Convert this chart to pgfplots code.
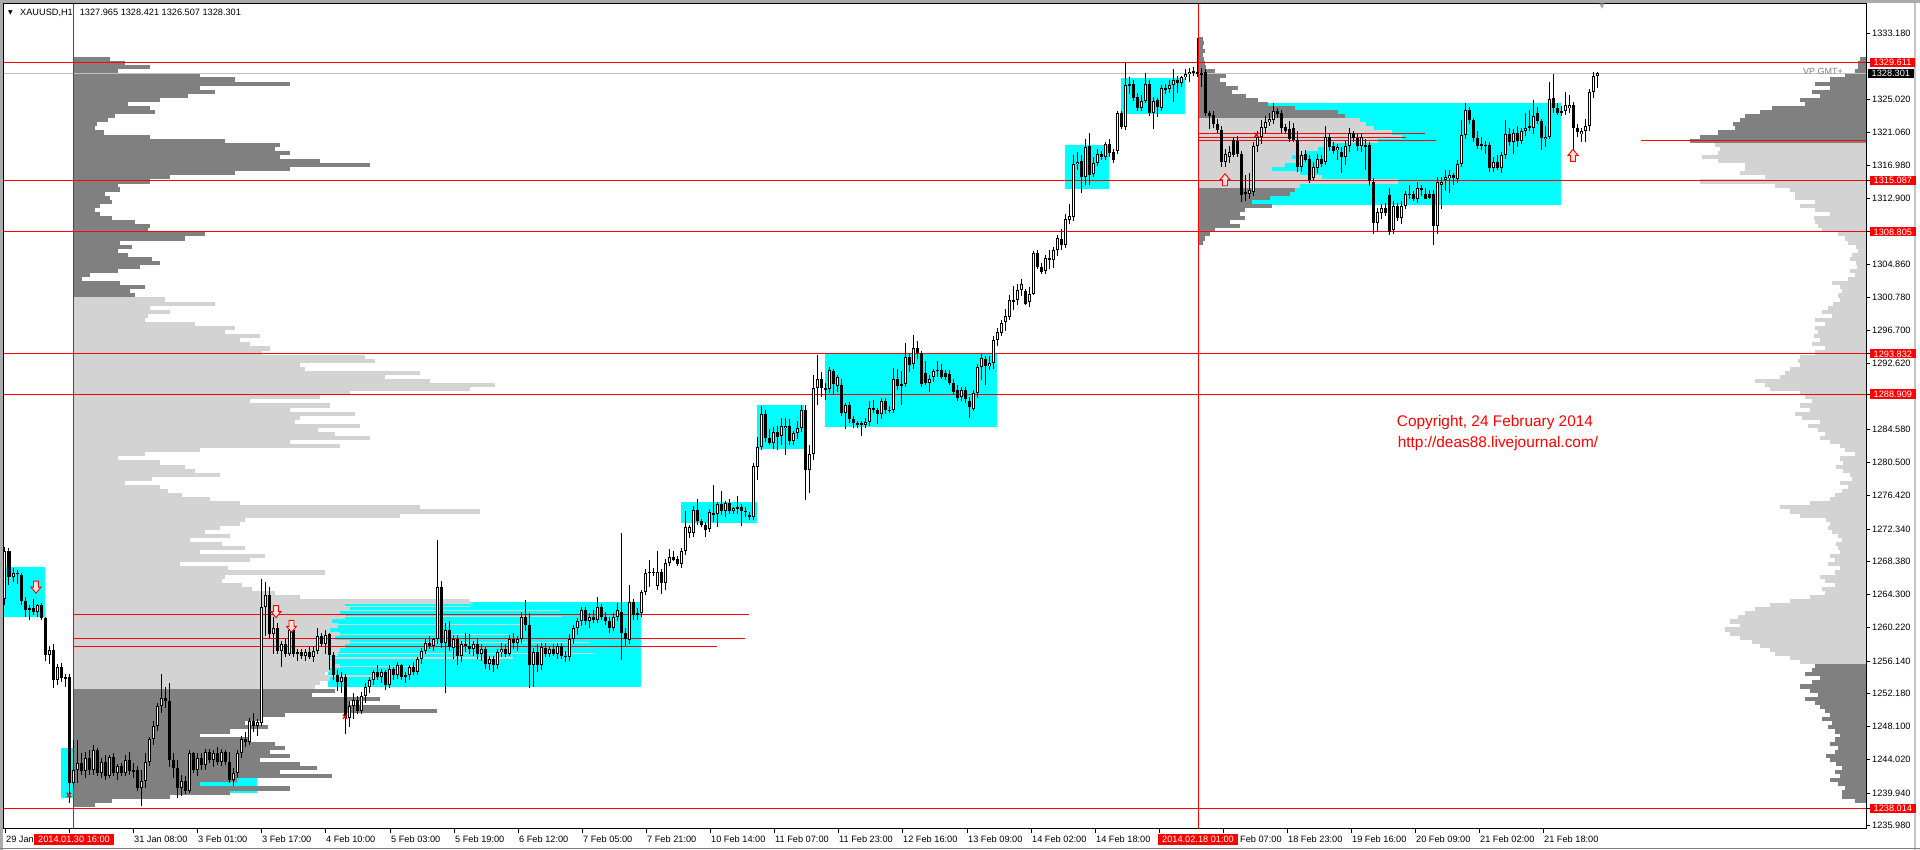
\documentclass[border=0pt]{standalone}
\usepackage{pgfplots}
\pgfplotsset{compat=1.18}
\usepackage{pgfplotstable}
\usepackage{fontspec}
\setmainfont{Liberation Sans}
\newfontfamily\dejavu{DejaVu Sans}
\definecolor{vpdark}{RGB}{128,128,128}
\definecolor{vplight}{RGB}{211,211,211}
\definecolor{mtcyan}{RGB}{0,255,255}
\definecolor{mtred}{RGB}{255,0,0}
\definecolor{pricegray}{RGB}{192,192,192}
\definecolor{framegray}{RGB}{170,170,170}
\definecolor{arrowfill}{RGB}{250,225,225}

\pgfdeclareplotmark{arrdown}{%
  \pgfpathmoveto{\pgfqpoint{-2.5pt}{6pt}}%
  \pgfpathlineto{\pgfqpoint{2.5pt}{6pt}}%
  \pgfpathlineto{\pgfqpoint{2.5pt}{0pt}}%
  \pgfpathlineto{\pgfqpoint{5pt}{0pt}}%
  \pgfpathlineto{\pgfqpoint{0pt}{-6pt}}%
  \pgfpathlineto{\pgfqpoint{-5pt}{0pt}}%
  \pgfpathlineto{\pgfqpoint{-2.5pt}{0pt}}%
  \pgfpathclose
  \pgfusepathqfillstroke}
\pgfdeclareplotmark{arrup}{%
  \pgfpathmoveto{\pgfqpoint{-2.5pt}{-6pt}}%
  \pgfpathlineto{\pgfqpoint{2.5pt}{-6pt}}%
  \pgfpathlineto{\pgfqpoint{2.5pt}{0pt}}%
  \pgfpathlineto{\pgfqpoint{5pt}{0pt}}%
  \pgfpathlineto{\pgfqpoint{0pt}{6pt}}%
  \pgfpathlineto{\pgfqpoint{-5pt}{0pt}}%
  \pgfpathlineto{\pgfqpoint{-2.5pt}{0pt}}%
  \pgfpathclose
  \pgfusepathqfillstroke}

% ---------------- candles (H1 bars, x = 5 + 4*index) ----------------
\pgfplotstableread{
o h l c
1263.8 1270.2 1263.0 1269.6
1269.6 1270.0 1265.5 1266.5
1266.5 1267.5 1265.8 1267.0
1267.0 1267.3 1265.6 1266.8
1266.7 1267.0 1263.0 1263.5
1263.5 1264.0 1261.5 1262.4
1262.4 1263.0 1261.2 1262.6
1262.6 1263.8 1261.8 1262.2
1262.2 1263.2 1261.5 1263.0
1263.0 1263.3 1261.2 1261.4
1261.4 1261.6 1256.2 1256.9
1256.9 1258.0 1255.8 1257.5
1257.5 1258.2 1252.8 1253.8
1253.8 1255.8 1253.2 1255.4
1255.4 1255.9 1253.6 1254.0
1254.0 1254.6 1253.0 1254.2
1254.2 1254.6 1238.7 1241.2
1241.2 1246.5 1240.5 1242.8
1242.8 1246.4 1241.2 1243.6
1243.6 1244.8 1242.2 1242.6
1242.6 1245.0 1241.8 1244.2
1244.2 1245.2 1242.2 1242.8
1242.8 1245.8 1242.2 1245.2
1245.2 1245.5 1242.0 1242.4
1242.4 1244.2 1241.8 1243.8
1243.8 1244.6 1241.6 1242.0
1242.0 1244.6 1241.8 1244.4
1244.4 1244.8 1242.0 1242.4
1242.4 1243.5 1241.6 1243.2
1243.2 1243.6 1242.0 1242.4
1242.4 1244.6 1242.0 1244.0
1244.0 1245.0 1242.2 1242.6
1242.6 1243.6 1241.8 1242.8
1242.8 1243.2 1240.2 1240.6
1240.6 1242.8 1238.3 1241.4
1241.4 1244.8 1240.6 1243.8
1243.8 1246.8 1243.2 1246.6
1246.6 1248.8 1245.8 1248.2
1248.2 1251.0 1247.6 1250.6
1250.6 1254.6 1249.8 1251.6
1251.6 1253.0 1250.4 1251.2
1251.2 1253.4 1243.2 1244.0
1244.0 1244.8 1241.8 1243.0
1243.0 1244.0 1239.3 1240.6
1240.6 1242.2 1239.6 1241.4
1241.4 1242.0 1239.8 1240.2
1240.2 1245.2 1240.0 1244.8
1244.8 1245.0 1242.4 1242.8
1242.8 1244.8 1242.0 1244.2
1244.2 1244.8 1242.8 1243.4
1243.4 1245.4 1242.8 1245.0
1245.0 1245.4 1243.6 1244.0
1244.0 1245.2 1243.2 1244.8
1244.8 1245.6 1243.4 1243.8
1243.8 1245.4 1243.2 1245.0
1245.0 1245.2 1243.4 1243.8
1243.8 1245.0 1241.2 1241.6
1241.6 1243.0 1240.8 1242.4
1242.4 1245.2 1241.8 1244.8
1244.8 1247.0 1244.2 1246.6
1246.6 1247.4 1245.6 1246.2
1246.2 1249.2 1245.8 1248.8
1248.8 1249.8 1247.4 1248.2
1248.2 1249.0 1247.0 1248.6
1248.6 1266.2 1248.2 1262.8
1262.8 1265.8 1259.2 1264.2
1264.2 1265.2 1258.8 1259.4
1259.4 1261.6 1257.0 1260.2
1260.2 1260.8 1257.0 1257.4
1257.4 1258.6 1255.4 1258.2
1258.2 1259.0 1256.6 1257.0
1257.0 1260.6 1256.8 1260.0
1260.0 1260.4 1256.6 1257.0
1257.0 1257.6 1256.2 1257.2
1257.2 1257.6 1256.4 1256.8
1256.8 1257.6 1256.2 1257.2
1257.2 1257.8 1256.4 1256.6
1256.6 1258.0 1256.0 1257.4
1257.4 1260.2 1257.0 1259.2
1259.2 1259.6 1257.8 1258.2
1258.2 1260.0 1257.0 1259.4
1259.4 1259.6 1255.0 1256.9
1256.9 1257.2 1253.8 1254.4
1254.4 1255.0 1252.4 1253.6
1253.6 1254.8 1252.2 1254.2
1254.2 1254.6 1247.2 1249.2
1249.2 1251.2 1248.0 1250.6
1250.6 1252.2 1249.0 1251.4
1251.4 1251.8 1249.6 1250.0
1250.0 1252.4 1249.6 1251.8
1251.8 1253.4 1251.0 1253.0
1253.0 1254.2 1252.2 1253.8
1253.8 1255.0 1253.2 1254.8
1254.8 1255.6 1253.8 1254.2
1254.2 1255.2 1253.4 1254.8
1254.8 1255.0 1252.6 1253.2
1253.2 1255.6 1252.8 1255.2
1255.2 1255.4 1253.8 1254.4
1254.4 1256.0 1254.0 1255.6
1255.6 1255.8 1253.8 1254.2
1254.2 1254.8 1253.4 1254.4
1254.4 1255.6 1253.8 1255.4
1255.4 1256.0 1254.4 1254.8
1254.8 1256.6 1254.4 1256.4
1256.4 1257.8 1255.8 1257.4
1257.4 1258.8 1257.0 1258.4
1258.4 1259.2 1257.6 1258.0
1258.0 1259.0 1257.4 1258.8
1258.8 1271.0 1258.2 1265.2
1265.2 1266.0 1257.8 1258.4
1258.4 1260.8 1252.2 1260.0
1260.0 1261.0 1257.4 1257.8
1257.8 1259.4 1256.4 1258.8
1258.8 1259.4 1255.6 1256.8
1256.8 1258.6 1256.0 1258.2
1258.2 1259.6 1257.2 1258.0
1258.0 1259.4 1257.0 1257.6
1257.6 1258.6 1256.8 1258.2
1258.2 1258.8 1256.4 1257.0
1257.0 1258.2 1256.2 1257.6
1257.6 1257.8 1255.2 1255.8
1255.8 1256.8 1255.0 1256.4
1256.4 1256.8 1254.8 1255.6
1255.6 1257.6 1255.2 1257.2
1257.2 1258.4 1256.6 1257.6
1257.6 1258.2 1256.6 1257.0
1257.0 1259.4 1256.8 1258.8
1258.8 1259.6 1257.6 1258.4
1258.4 1259.2 1257.4 1258.8
1258.8 1262.2 1258.4 1261.6
1261.6 1263.6 1259.8 1260.6
1260.6 1262.0 1252.8 1255.6
1255.6 1257.8 1253.0 1257.2
1257.2 1258.2 1254.8 1255.6
1255.6 1258.4 1255.0 1257.8
1257.8 1258.4 1256.6 1257.0
1257.0 1258.0 1256.6 1257.6
1257.6 1258.2 1256.8 1257.0
1257.0 1258.4 1256.4 1258.0
1258.0 1258.4 1256.4 1256.8
1256.8 1257.4 1256.0 1256.6
1256.6 1259.4 1256.2 1258.8
1258.8 1260.6 1258.2 1260.2
1260.2 1261.4 1259.4 1261.0
1261.0 1262.8 1260.4 1262.4
1262.4 1262.8 1260.6 1261.0
1261.0 1262.0 1260.2 1261.6
1261.6 1262.4 1260.8 1261.2
1261.2 1264.0 1260.8 1262.8
1262.8 1263.2 1261.2 1261.6
1261.6 1262.2 1260.6 1261.0
1261.0 1261.6 1259.6 1260.2
1260.2 1262.0 1259.8 1261.6
1261.6 1263.2 1261.0 1262.4
1262.2 1271.8 1256.3 1259.6
1259.6 1260.2 1258.0 1258.8
1258.7 1265.5 1258.2 1263.4
1263.4 1263.8 1261.2 1261.8
1261.8 1262.6 1261.2 1262.0
1262.0 1264.8 1261.6 1264.6
1264.6 1267.5 1264.2 1267.0
1267.0 1268.6 1265.2 1267.1
1267.1 1267.6 1266.6 1267.0
1265.3 1269.6 1264.8 1267.1
1267.1 1267.4 1264.4 1265.7
1265.7 1268.6 1264.8 1268.2
1268.2 1269.9 1267.8 1268.9
1268.9 1269.6 1268.4 1268.6
1268.7 1269.0 1267.8 1268.1
1268.1 1270.0 1267.6 1269.6
1269.6 1274.5 1269.2 1272.6
1271.8 1272.8 1271.2 1272.6
1271.8 1275.2 1271.4 1274.7
1274.7 1276.0 1272.8 1273.3
1273.3 1273.6 1272.6 1272.9
1272.9 1273.2 1271.4 1272.2
1272.4 1274.8 1272.0 1274.4
1274.1 1277.7 1273.2 1274.3
1274.2 1275.6 1272.6 1275.4
1275.4 1277.0 1274.0 1274.5
1274.5 1275.8 1273.8 1275.5
1275.6 1276.0 1274.2 1274.5
1274.6 1275.0 1274.2 1274.9
1274.8 1276.4 1274.2 1275.0
1275.0 1275.4 1272.7 1274.6
1274.6 1275.0 1273.8 1274.4
1274.1 1274.4 1273.4 1273.8
1273.8 1280.4 1273.4 1280.1
1280.0 1283.6 1278.4 1282.4
1282.4 1287.4 1282.0 1286.5
1286.5 1287.0 1283.0 1283.5
1283.5 1284.6 1282.6 1282.9
1282.9 1284.8 1282.2 1284.2
1284.2 1285.0 1282.0 1283.7
1283.7 1286.0 1282.6 1285.0
1284.7 1286.0 1281.4 1285.0
1285.0 1285.8 1282.6 1283.1
1283.1 1284.4 1282.6 1284.1
1284.1 1285.6 1283.4 1284.7
1284.7 1287.6 1284.2 1286.9
1286.9 1287.6 1275.9 1279.6
1279.6 1282.6 1276.7 1281.6
1281.6 1291.2 1280.8 1289.6
1289.6 1293.7 1287.6 1290.8
1290.8 1291.6 1288.6 1289.6
1289.6 1290.2 1288.2 1289.4
1289.5 1292.2 1289.0 1291.9
1291.7 1292.0 1288.8 1290.1
1289.9 1291.2 1289.2 1291.0
1290.0 1290.8 1286.2 1286.6
1286.6 1287.8 1284.6 1287.6
1287.6 1287.9 1285.4 1285.8
1285.8 1286.2 1284.8 1285.3
1285.3 1285.6 1284.8 1285.2
1285.3 1285.6 1283.8 1285.1
1285.1 1286.0 1284.8 1285.5
1285.5 1288.0 1285.0 1287.2
1287.2 1288.2 1286.6 1286.9
1286.9 1287.2 1285.2 1286.5
1286.5 1288.4 1285.8 1288.0
1288.1 1288.4 1286.4 1287.0
1287.0 1287.4 1286.6 1286.8
1287.0 1292.1 1286.6 1290.7
1290.7 1292.0 1289.4 1289.9
1290.1 1291.8 1287.6 1289.9
1290.1 1295.2 1289.8 1293.4
1293.4 1293.8 1291.6 1292.5
1292.6 1296.2 1292.0 1294.6
1294.6 1295.4 1293.2 1293.9
1293.9 1294.2 1289.8 1290.2
1291.5 1293.0 1290.0 1290.2
1290.3 1291.2 1289.2 1290.7
1291.0 1292.0 1290.4 1291.7
1291.7 1293.0 1291.0 1291.9
1291.9 1292.6 1290.8 1291.0
1291.5 1291.8 1290.6 1291.0
1291.4 1291.8 1290.0 1290.3
1290.3 1290.8 1288.8 1289.2
1289.4 1290.0 1288.0 1288.4
1288.6 1289.8 1288.0 1289.4
1289.4 1289.8 1287.8 1288.3
1288.1 1288.6 1286.0 1287.3
1287.1 1289.4 1286.8 1289.0
1289.0 1292.6 1288.4 1292.2
1292.2 1293.8 1290.6 1293.3
1293.2 1293.6 1290.0 1292.3
1292.3 1293.6 1291.8 1292.7
1292.7 1296.0 1292.0 1295.5
1295.5 1297.0 1294.8 1296.5
1296.4 1298.0 1296.0 1297.6
1297.7 1299.4 1296.6 1298.5
1298.4 1301.0 1298.0 1300.5
1300.5 1302.2 1299.2 1300.2
1300.4 1302.4 1299.8 1301.7
1301.7 1303.0 1301.0 1302.4
1301.5 1301.8 1299.8 1300.0
1300.2 1302.0 1299.6 1301.2
1301.2 1306.4 1301.0 1306.2
1306.2 1306.6 1304.2 1304.5
1304.5 1305.0 1303.6 1303.9
1304.0 1306.0 1303.6 1305.6
1305.6 1306.6 1304.2 1305.4
1305.4 1307.0 1304.4 1306.6
1306.6 1308.4 1305.8 1308.0
1308.0 1309.2 1306.6 1307.2
1307.2 1311.0 1306.8 1310.4
1310.3 1312.2 1309.8 1310.8
1310.6 1318.2 1310.2 1317.1
1317.1 1318.6 1316.4 1317.4
1317.5 1318.2 1313.6 1315.6
1315.6 1320.2 1314.6 1319.2
1319.4 1320.9 1314.6 1315.8
1315.9 1318.0 1315.5 1317.3
1317.3 1319.0 1316.9 1318.4
1318.4 1318.8 1317.6 1318.0
1318.0 1319.9 1317.6 1319.6
1319.6 1320.2 1318.0 1318.5
1318.6 1319.0 1317.2 1317.6
1318.8 1323.6 1318.4 1323.4
1323.4 1323.7 1321.4 1321.7
1321.7 1329.6 1321.3 1326.8
1326.8 1327.8 1325.7 1326.9
1327.0 1327.4 1324.9 1325.3
1325.3 1325.9 1323.6 1324.0
1324.0 1325.6 1323.6 1324.9
1324.9 1328.3 1324.6 1327.0
1327.0 1327.4 1323.0 1323.4
1323.4 1325.4 1321.5 1324.9
1325.0 1325.2 1322.9 1324.1
1324.0 1326.8 1323.6 1326.5
1326.4 1327.0 1325.8 1326.4
1326.4 1327.4 1325.8 1326.8
1326.8 1328.8 1324.8 1327.5
1327.5 1327.9 1325.8 1327.1
1327.1 1328.0 1326.6 1327.8
1327.8 1328.8 1327.4 1328.2
1328.2 1328.9 1327.2 1328.5
1328.5 1329.0 1328.0 1328.5
1328.4 1332.6 1327.8 1328.3
1328.3 1328.9 1326.6 1328.1
1328.5 1328.8 1323.0 1323.4
1323.4 1323.6 1321.5 1323.0
1323.2 1323.6 1321.6 1322.1
1322.1 1322.6 1321.0 1321.3
1321.3 1321.8 1316.8 1317.4
1317.4 1319.0 1316.8 1318.4
1318.0 1319.4 1317.2 1318.6
1320.1 1320.4 1318.0 1318.2
1320.0 1320.6 1318.0 1318.4
1318.4 1318.8 1312.5 1313.3
1313.5 1315.8 1312.6 1313.7
1313.5 1316.0 1312.8 1314.0
1313.7 1319.8 1313.2 1319.3
1319.3 1321.2 1318.6 1320.5
1320.5 1322.6 1319.6 1321.7
1321.5 1323.0 1320.8 1322.3
1322.3 1323.4 1321.8 1322.6
1322.6 1324.6 1322.0 1323.6
1323.6 1324.0 1322.8 1323.3
1323.4 1323.8 1321.0 1321.5
1321.7 1322.0 1320.8 1321.2
1321.4 1322.4 1319.8 1320.2
1321.6 1322.2 1319.8 1320.1
1320.1 1321.2 1316.2 1316.8
1316.8 1318.8 1316.2 1318.2
1318.4 1318.8 1317.4 1317.6
1317.8 1318.2 1314.8 1315.2
1315.4 1317.4 1315.0 1316.8
1316.6 1318.4 1316.0 1317.8
1317.8 1318.2 1316.8 1317.2
1317.4 1321.8 1317.0 1320.5
1320.4 1321.0 1318.8 1319.2
1319.4 1319.8 1318.4 1318.8
1318.8 1319.6 1317.6 1319.2
1318.6 1319.2 1316.0 1318.0
1318.0 1320.0 1317.0 1319.3
1319.3 1321.6 1318.6 1320.9
1320.9 1321.2 1319.8 1320.3
1320.3 1321.0 1318.8 1319.3
1319.3 1321.0 1318.6 1320.5
1319.3 1320.2 1316.4 1319.5
1319.5 1319.8 1314.4 1315.0
1315.0 1315.4 1308.6 1309.9
1309.9 1311.8 1308.8 1311.3
1311.1 1312.2 1310.4 1311.7
1311.7 1312.4 1310.8 1311.1
1313.3 1314.2 1308.4 1308.8
1309.0 1312.6 1308.6 1312.0
1312.0 1312.4 1310.2 1310.5
1310.5 1312.6 1309.8 1312.0
1312.0 1313.8 1311.6 1313.5
1313.3 1314.6 1312.8 1313.5
1313.5 1313.8 1312.6 1312.9
1312.9 1315.0 1312.4 1314.2
1314.2 1314.6 1313.2 1314.0
1313.5 1314.2 1312.8 1312.9
1313.5 1314.0 1312.8 1313.0
1313.5 1314.0 1307.2 1309.5
1309.5 1315.6 1308.6 1315.0
1314.6 1315.6 1311.6 1315.0
1315.2 1316.4 1313.8 1315.6
1315.4 1316.4 1313.6 1315.8
1315.8 1316.0 1314.6 1315.4
1315.3 1317.6 1314.8 1317.2
1317.2 1322.6 1316.8 1320.7
1320.7 1324.6 1320.2 1323.8
1323.8 1324.2 1322.0 1322.5
1322.5 1322.8 1319.8 1320.3
1320.3 1321.2 1319.0 1319.3
1319.5 1320.4 1318.8 1319.5
1319.5 1320.0 1318.4 1319.4
1319.5 1319.8 1316.2 1316.6
1316.6 1318.0 1316.2 1317.4
1317.4 1318.2 1316.4 1316.6
1316.6 1318.6 1316.0 1318.2
1318.2 1322.6 1317.8 1320.8
1320.8 1321.6 1319.4 1319.9
1319.9 1321.4 1318.4 1320.9
1321.0 1321.8 1319.2 1320.0
1320.0 1321.6 1319.6 1321.2
1321.2 1323.4 1320.6 1321.6
1321.6 1323.8 1321.2 1321.8
1321.6 1325.0 1320.8 1323.0
1323.4 1324.2 1322.0 1322.4
1322.4 1322.6 1318.8 1320.3
1320.2 1321.8 1319.2 1320.5
1320.5 1327.2 1320.2 1325.1
1325.2 1328.2 1323.4 1324.0
1324.0 1324.6 1323.2 1323.4
1323.5 1324.2 1323.0 1323.6
1323.6 1326.0 1323.2 1324.4
1324.0 1325.6 1323.4 1324.4
1324.4 1324.8 1318.0 1321.6
1321.6 1322.0 1320.4 1321.1
1320.8 1321.6 1319.8 1321.2
1321.2 1322.6 1319.8 1321.8
1321.8 1326.4 1321.2 1326.0
1326.0 1328.4 1325.2 1327.9
1327.965 1328.421 1326.507 1328.301
}\candles

% ---------------- volume profiles: price p, bar end x w ----------------
\pgfplotstableread[row sep=\\]{
p w\\
1330.0 110\\ 1329.5 125\\ 1329.0 150\\ 1328.5 118\\ 1328.0 200\\ 1327.5 235\\ 1327.0 290\\ 1326.5 200\\
1326.0 215\\ 1325.5 188\\ 1325.0 160\\ 1324.5 128\\ 1324.0 150\\ 1323.5 155\\ 1323.0 115\\ 1322.5 108\\
1322.0 97\\ 1321.5 95\\ 1321.0 104\\ 1320.5 150\\ 1320.0 225\\ 1319.5 280\\ 1319.0 275\\ 1318.5 290\\
1318.0 280\\ 1317.5 320\\ 1317.0 370\\ 1316.5 290\\ 1316.0 235\\ 1315.5 170\\ 1315.0 150\\ 1314.5 118\\
1314.0 120\\ 1313.5 105\\ 1313.0 110\\ 1312.5 112\\ 1312.0 100\\ 1311.5 95\\ 1311.0 100\\ 1310.5 112\\
1310.0 135\\ 1309.5 150\\ 1309.0 148\\ 1308.5 205\\ 1308.0 185\\ 1307.5 120\\ 1307.0 132\\ 1306.5 118\\
1306.0 128\\ 1305.5 152\\ 1305.0 160\\ 1304.5 140\\ 1304.0 118\\ 1303.5 90\\ 1303.0 82\\ 1302.5 120\\
1302.0 145\\ 1301.5 130\\ 1301.0 135\\
1252.5 335\\ 1252.0 312\\ 1251.5 380\\ 1251.0 350\\ 1250.5 400\\ 1250.0 437\\ 1249.5 285\\ 1249.0 260\\
1248.5 245\\ 1248.0 268\\ 1247.5 230\\ 1247.0 200\\ 1246.5 250\\ 1246.0 275\\ 1245.5 285\\ 1245.0 270\\
1244.5 290\\ 1244.0 260\\ 1243.5 300\\ 1243.0 317\\ 1242.5 280\\ 1242.0 332\\ 1241.5 237\\ 1241.0 200\\
1240.5 290\\ 1240.0 230\\ 1239.5 170\\ 1239.0 112\\ 1238.5 95\\
}\leftdark

\pgfplotstableread[row sep=\\]{
p w\\
1300.5 165\\ 1300.0 215\\ 1299.5 150\\ 1299.0 170\\ 1298.5 148\\ 1298.0 145\\ 1297.5 195\\ 1297.0 235\\
1296.5 225\\ 1296.0 260\\ 1295.5 240\\ 1295.0 250\\ 1294.5 270\\ 1294.0 262\\ 1293.5 365\\ 1293.0 375\\
1292.5 300\\ 1292.0 305\\ 1291.5 420\\ 1291.0 385\\ 1290.5 430\\ 1290.0 495\\ 1289.5 470\\ 1289.0 350\\
1288.5 320\\ 1288.0 250\\ 1287.5 330\\ 1287.0 290\\ 1286.5 355\\ 1286.0 300\\ 1285.5 295\\ 1285.0 360\\
1284.5 318\\ 1284.0 335\\ 1283.5 370\\ 1283.0 290\\ 1282.5 340\\ 1282.0 200\\ 1281.5 145\\ 1281.0 118\\
1280.5 160\\ 1280.0 185\\ 1279.5 195\\ 1279.0 220\\ 1278.5 152\\ 1278.0 125\\ 1277.5 160\\ 1277.0 168\\
1276.5 182\\ 1276.0 210\\ 1275.5 240\\ 1275.0 420\\ 1274.5 480\\ 1274.0 400\\ 1273.5 245\\ 1273.0 240\\
1272.5 220\\ 1272.0 205\\ 1271.5 230\\ 1271.0 190\\ 1270.5 222\\ 1270.0 245\\ 1269.5 200\\ 1269.0 265\\
1268.5 250\\ 1268.0 180\\ 1267.5 228\\ 1267.0 325\\ 1266.5 225\\ 1266.0 222\\ 1265.5 242\\ 1265.0 252\\
1264.5 275\\ 1264.0 300\\ 1263.5 470\\ 1263.0 345\\ 1262.5 350\\ 1262.0 340\\ 1261.5 345\\ 1261.0 332\\
1260.5 338\\ 1260.0 330\\ 1259.5 340\\ 1259.0 335\\ 1258.5 350\\ 1258.0 345\\ 1257.5 340\\ 1257.0 338\\
1256.5 330\\ 1256.0 335\\ 1255.5 340\\ 1255.0 330\\ 1254.5 325\\ 1254.0 330\\ 1253.5 320\\ 1253.0 315\\
}\leftlight

\pgfplotstableread[row sep=\\]{
p w\\
1262.8 470\\ 1262.3 560\\ 1261.6 562\\ 1260.6 527\\ 1259.4 509\\ 1258.4 590\\ 1257.9 594\\ 1257.1 594\\
1256.5 513\\ 1255.5 420\\ 1254.3 390\\ 1263.2 473\\
}\leftspikes

\pgfplotstableread[row sep=\\]{
p w\\
1332.5 1203\\ 1332.0 1204\\ 1331.5 1203\\ 1331.0 1205\\ 1330.5 1203\\ 1330.0 1204\\ 1329.5 1205\\ 1329.0 1206\\
1328.5 1215\\ 1328.0 1226\\ 1327.5 1220\\ 1327.0 1226\\ 1326.5 1238\\ 1326.0 1232\\ 1325.5 1246\\ 1325.0 1258\\
1324.5 1268\\ 1324.0 1295\\ 1323.5 1338\\ 1323.0 1345\\
1314.0 1295\\ 1313.5 1290\\ 1313.0 1270\\ 1312.5 1252\\ 1312.0 1272\\ 1311.5 1245\\ 1311.0 1240\\ 1310.5 1245\\
1310.0 1230\\ 1309.5 1240\\ 1309.0 1215\\ 1308.5 1210\\ 1308.0 1205\\ 1307.5 1203\\
}\middark

\pgfplotstableread[row sep=\\]{
p w\\
1322.5 1360\\ 1322.0 1366\\ 1321.5 1374\\ 1321.0 1392\\ 1320.5 1402\\ 1320.0 1378\\ 1319.5 1332\\ 1319.0 1318\\
1318.5 1305\\ 1318.0 1292\\ 1317.5 1300\\ 1317.0 1285\\ 1316.5 1272\\ 1316.0 1300\\ 1315.5 1322\\ 1315.0 1398\\
1314.5 1300\\
}\midlight

\pgfplotstableread[row sep=\\]{
p w\\
1330.0 1860\\ 1329.5 1858\\ 1329.0 1858\\ 1328.5 1855\\ 1328.0 1845\\ 1327.5 1830\\ 1327.0 1815\\ 1326.5 1830\\
1326.0 1812\\ 1325.5 1820\\ 1325.0 1800\\ 1324.5 1805\\ 1324.0 1772\\ 1323.5 1760\\ 1323.0 1745\\ 1322.5 1740\\
1322.0 1733\\ 1321.5 1735\\ 1321.0 1718\\ 1320.5 1700\\ 1320.0 1690\\
1255.5 1815\\ 1255.0 1812\\ 1254.5 1805\\ 1254.0 1820\\ 1253.5 1812\\ 1253.0 1800\\ 1252.5 1810\\ 1252.0 1818\\
1251.5 1805\\ 1251.0 1815\\ 1250.5 1820\\ 1250.0 1825\\ 1249.5 1830\\ 1249.0 1822\\ 1248.5 1832\\ 1248.0 1828\\
1247.5 1835\\ 1247.0 1840\\ 1246.5 1835\\ 1246.0 1830\\ 1245.5 1838\\ 1245.0 1835\\ 1244.5 1826\\ 1244.0 1830\\
1243.5 1836\\ 1243.0 1842\\ 1242.5 1835\\ 1242.0 1840\\ 1241.5 1830\\ 1241.0 1838\\ 1240.5 1845\\ 1240.0 1842\\
1239.5 1842\\ 1239.0 1855\\
}\rightdark

\pgfplotstableread[row sep=\\]{
p w\\
1319.5 1715\\ 1319.0 1720\\ 1318.5 1718\\ 1318.0 1702\\ 1317.5 1718\\ 1317.0 1745\\ 1316.5 1745\\ 1316.0 1740\\
1315.5 1765\\ 1315.0 1700\\ 1314.5 1775\\ 1314.0 1790\\ 1313.5 1795\\ 1313.0 1795\\ 1312.5 1815\\ 1312.0 1800\\
1311.5 1815\\ 1311.0 1830\\ 1310.5 1814\\ 1310.0 1815\\ 1309.5 1818\\ 1309.0 1822\\ 1308.5 1838\\ 1308.0 1845\\
1307.5 1848\\ 1307.0 1856\\ 1306.5 1858\\ 1306.0 1852\\ 1305.5 1850\\ 1305.0 1856\\ 1304.5 1857\\ 1304.0 1850\\
1303.5 1855\\ 1303.0 1848\\ 1302.5 1832\\ 1302.0 1840\\ 1301.5 1842\\ 1301.0 1838\\ 1300.5 1840\\ 1300.0 1833\\
1299.5 1828\\ 1299.0 1822\\ 1298.5 1832\\ 1298.0 1815\\ 1297.5 1825\\ 1297.0 1815\\ 1296.5 1818\\ 1296.0 1814\\
1295.5 1820\\ 1295.0 1812\\ 1294.5 1825\\ 1294.0 1815\\ 1293.5 1800\\ 1293.0 1798\\ 1292.5 1800\\ 1292.0 1790\\
1291.5 1785\\ 1291.0 1780\\ 1290.5 1755\\ 1290.0 1765\\ 1289.5 1770\\ 1289.0 1800\\ 1288.5 1805\\ 1288.0 1812\\
1287.5 1800\\ 1287.0 1810\\ 1286.5 1795\\ 1286.0 1802\\ 1285.5 1820\\ 1285.0 1808\\ 1284.5 1818\\ 1284.0 1825\\
1283.5 1820\\ 1283.0 1830\\ 1282.5 1840\\ 1282.0 1845\\ 1281.5 1855\\ 1281.0 1840\\ 1280.5 1843\\ 1280.0 1836\\
1279.5 1843\\ 1279.0 1850\\ 1278.5 1852\\ 1278.0 1840\\ 1277.5 1848\\ 1277.0 1842\\ 1276.5 1835\\ 1276.0 1830\\
1275.5 1810\\ 1275.0 1780\\ 1274.5 1790\\ 1274.0 1800\\ 1273.5 1826\\ 1273.0 1830\\ 1272.5 1828\\ 1272.0 1832\\
1271.5 1838\\ 1271.0 1842\\ 1270.5 1836\\ 1270.0 1838\\ 1269.5 1840\\ 1269.0 1830\\ 1268.5 1835\\ 1268.0 1828\\
1267.5 1840\\ 1267.0 1835\\ 1266.5 1820\\ 1266.0 1825\\ 1265.5 1835\\ 1265.0 1822\\ 1264.5 1825\\ 1264.0 1810\\
1263.5 1790\\ 1263.0 1770\\ 1262.5 1755\\ 1262.0 1745\\ 1261.5 1738\\ 1261.0 1730\\ 1260.5 1740\\ 1260.0 1725\\
1259.5 1730\\ 1259.0 1740\\ 1258.5 1752\\ 1258.0 1760\\ 1257.5 1770\\ 1257.0 1775\\ 1256.5 1790\\ 1256.0 1800\\
}\rightlight

\pgfplotsset{
  profplus/.style={draw=none, mark=none, forget plot,
    error bars/x dir=plus, error bars/x explicit, error bars/error mark=none,
    error bars/error bar style={draw=#1, line width=4.2pt}},
  profminus/.style={draw=none, mark=none, forget plot,
    error bars/x dir=minus, error bars/x explicit, error bars/error mark=none,
    error bars/error bar style={draw=#1, line width=4.2pt}},
  candlebar/.style 2 args={draw=none, mark=none, forget plot,
    error bars/y dir=both, error bars/y explicit, error bars/error mark=none,
    error bars/error bar style={draw=#1, line width=#2}},
}

\begin{document}
\begin{tikzpicture}[x=1pt,y=1pt]
\path[use as bounding box] (0,0) rectangle (1920,850);
\fill[white] (0,0) rectangle (1920,850);
\fill[framegray] (0,847) rectangle (1920,850);
\fill[framegray] (0,0) rectangle (3,850);
\fill[framegray!70] (1914,0) rectangle (1916,847);
\draw[gray, line width=1pt] (0,1.5) -- (1920,1.5);

\begin{axis}[
  at={(4pt,21pt)}, anchor=south west,
  scale only axis, width=1862pt, height=825pt,
  xmin=4, xmax=1866, ymin=1235.524, ymax=1336.776,
  axis line style={black, line width=1pt},
  tick align=outside, major tick length=4pt,
  tick style={black, line width=0.8pt},
  xtick pos=bottom, ytick pos=right, yticklabel pos=right,
  xtick={5,69,133,197,261,325,390,454,518,582,646,710,774,838,902,967,1031,1095,1159,1223,1287,1351,1415,1479,1543},
  xticklabels={29 Jan,{},31 Jan 08:00,3 Feb 01:00,3 Feb 17:00,4 Feb 10:00,5 Feb 03:00,5 Feb 19:00,6 Feb 12:00,7 Feb 05:00,7 Feb 21:00,10 Feb 14:00,11 Feb 07:00,11 Feb 23:00,12 Feb 16:00,13 Feb 09:00,14 Feb 02:00,14 Feb 18:00,{},{},18 Feb 23:00,19 Feb 16:00,20 Feb 09:00,21 Feb 02:00,21 Feb 18:00},
  ytick={1333.18,1325.02,1321.06,1316.98,1312.9,1304.86,1300.78,1296.7,1292.62,1284.58,1280.5,1276.42,1272.34,1268.38,1264.3,1260.22,1256.14,1252.18,1248.1,1244.02,1239.94,1235.98},
  yticklabels={1333.180,1325.020,1321.060,1316.980,1312.900,1304.860,1300.780,1296.700,1292.620,1284.580,1280.500,1276.420,1272.340,1268.380,1264.300,1260.220,1256.140,1252.180,1248.100,1244.020,1239.940,1235.980},
  extra y ticks={1329.611,1315.087,1308.805,1293.832,1288.909,1238.014},
  extra y tick labels={1329.611,1315.087,1308.805,1293.832,1288.909,1238.014},
  extra y tick style={yticklabel style={fill=mtred, text=white, inner xsep=3.5pt, inner ysep=1.3pt, xshift=-2pt}},
  ticklabel style={font=\fontsize{9.2}{10}\selectfont},
  xticklabel style={anchor=north west, inner sep=0pt, xshift=1pt, yshift=-2.5pt},
  yticklabel style={anchor=west, inner sep=0pt, xshift=2pt},
  scaled ticks=false,
]
% cyan zones
\addplot[fill=mtcyan, draw=none, forget plot] coordinates {(4,1261.5)(45,1261.5)(45,1267.7)(4,1267.7)} -- cycle;
\addplot[fill=mtcyan, draw=none, forget plot] coordinates {(61,1239.3)(80,1239.3)(80,1245.5)(61,1245.5)} -- cycle;
\addplot[fill=mtcyan, draw=none, forget plot] coordinates {(147,1239.9)(257,1239.9)(257,1245.8)(147,1245.8)} -- cycle;
\addplot[fill=mtcyan, draw=none, forget plot] coordinates {(328,1253.0)(641,1253.0)(641,1263.4)(328,1263.4)} -- cycle;
\addplot[fill=mtcyan, draw=none, forget plot] coordinates {(681,1273.1)(757,1273.1)(757,1275.7)(681,1275.7)} -- cycle;
\addplot[fill=mtcyan, draw=none, forget plot] coordinates {(757,1282.2)(804,1282.2)(804,1287.6)(757,1287.6)} -- cycle;
\addplot[fill=mtcyan, draw=none, forget plot] coordinates {(825,1284.8)(997,1284.8)(997,1293.8)(825,1293.8)} -- cycle;
\addplot[fill=mtcyan, draw=none, forget plot] coordinates {(1065,1314.1)(1109,1314.1)(1109,1319.5)(1065,1319.5)} -- cycle;
\addplot[fill=mtcyan, draw=none, forget plot] coordinates {(1121,1323.3)(1185,1323.3)(1185,1327.7)(1121,1327.7)} -- cycle;
\addplot[fill=mtcyan, draw=none, forget plot] coordinates {(1237,1312.1)(1561,1312.1)(1561,1324.6)(1237,1324.6)} -- cycle;

% volume profiles
\addplot[profplus=vpdark] table[x expr=74, y=p, x error expr={\thisrow{w}-74}] {\leftdark};
\addplot[profplus=vplight] table[x expr=74, y=p, x error expr={\thisrow{w}-74}] {\leftlight};
\addplot[draw=none, mark=none, forget plot, error bars/x dir=plus, error bars/x explicit, error bars/error mark=none,
  error bars/error bar style={draw=vplight, line width=1.2pt}] table[x expr=74, y=p, x error expr={\thisrow{w}-74}] {\leftspikes};
\addplot[profplus=vpdark] table[x expr=1199, y=p, x error expr={\thisrow{w}-1199}] {\middark};
\addplot[profplus=vplight] table[x expr=1199, y=p, x error expr={\thisrow{w}-1199}] {\midlight};
\addplot[profminus=vpdark] table[x expr=1866, y=p, x error expr={1866-\thisrow{w}}] {\rightdark};
\addplot[profminus=vplight] table[x expr=1866, y=p, x error expr={1866-\thisrow{w}}] {\rightlight};

% price line and levels
\addplot[pricegray, line width=1pt, forget plot] coordinates {(4,1328.301)(1866,1328.301)};
\addplot[mtred, line width=1pt, forget plot] coordinates {(4,1329.611)(1866,1329.611)};
\addplot[mtred, line width=1pt, forget plot] coordinates {(4,1315.087)(1866,1315.087)};
\addplot[mtred, line width=1pt, forget plot] coordinates {(4,1308.805)(1866,1308.805)};
\addplot[mtred, line width=1pt, forget plot] coordinates {(4,1293.832)(1866,1293.832)};
\addplot[mtred, line width=1pt, forget plot] coordinates {(4,1288.909)(1866,1288.909)};
\addplot[mtred, line width=1pt, forget plot] coordinates {(4,1238.014)(1866,1238.014)};
\addplot[mtred, line width=1pt, forget plot] coordinates {(74,1261.9)(749,1261.9)};
\addplot[mtred, line width=1pt, forget plot] coordinates {(74,1258.9)(745,1258.9)};
\addplot[mtred, line width=1pt, forget plot] coordinates {(74,1257.9)(717,1257.9)};
\addplot[mtred, line width=1pt, forget plot] coordinates {(1199,1320.9)(1425,1320.9)};
\addplot[mtred, line width=1pt, forget plot] coordinates {(1199,1320.4)(1406,1320.4)};
\addplot[mtred, line width=1pt, forget plot] coordinates {(1199,1320.0)(1436,1320.0)};
\addplot[mtred, line width=1pt, forget plot] coordinates {(1641,1320.0)(1866,1320.0)};
\addplot[mtred, line width=1pt, forget plot] coordinates {(73.5,1235.524)(73.5,1336.776)};
\addplot[mtred, line width=1pt, forget plot] coordinates {(1198.5,1235.524)(1198.5,1336.776)};

% candles: wicks, bodies, hollow bull bodies
\addplot[candlebar={black}{1pt}] table[x expr={5+4*\coordindex}, y expr={(\thisrow{h}+\thisrow{l})/2}, y error expr={(\thisrow{h}-\thisrow{l})/2}] {\candles};
\addplot[candlebar={black}{3pt}] table[x expr={5+4*\coordindex}, y expr={(\thisrow{o}+\thisrow{c})/2}, y error expr={max(abs(\thisrow{c}-\thisrow{o})/2,0.07)}] {\candles};
\addplot[candlebar={white}{1pt}] table[x expr={5+4*\coordindex}, y expr={(\thisrow{o}+\thisrow{c})/2}, y error expr={max((\thisrow{c}-\thisrow{o})/2-0.123,0)}] {\candles};

% signal arrows and crosses
\addplot[only marks, mark=arrdown, mark options={draw=mtred, fill=arrowfill, line width=0.9pt}, forget plot]
  coordinates {(36,1265.2)(276,1262.2)(291.5,1260.4)};
\addplot[only marks, mark=arrup, mark options={draw=mtred, fill=arrowfill, line width=0.9pt}, forget plot]
  coordinates {(1225,1315.2)(1573,1318.2)};
\addplot[only marks, mark=x, mark size=3pt, mark options={mtred, line width=1.2pt}, forget plot]
  coordinates {(69,1239.7)(345,1249.3)(1256.5,1320.7)};
\end{axis}

% header
\node[anchor=west, inner sep=0pt] at (8,837.3) {\dejavu\fontsize{6}{6}\selectfont ▼};
\node[anchor=west, inner sep=0pt, font=\fontsize{9.2}{10}\selectfont] at (20,837.3) {XAUUSD,H1\hspace{7pt}1327.965 1328.421 1326.507 1328.301};
% current price label
\node[anchor=west, fill=black, text=white, inner xsep=3.5pt, inner ysep=1.3pt, font=\fontsize{9.2}{10}\selectfont] at (1868,776.9) {1328.301};
% vertical line date labels
\node[fill=mtred, text=white, inner xsep=4pt, inner ysep=2.5pt, font=\fontsize{9.2}{10}\selectfont] at (74,10.5) {2014.01.30 16:00};
\node[fill=mtred, text=white, inner xsep=4pt, inner ysep=2.5pt, font=\fontsize{9.2}{10}\selectfont] at (1198,10.5) {2014.02.18 01:00};
\node[anchor=west, inner sep=0pt, font=\fontsize{9.2}{10}\selectfont] at (1240,11) {Feb 07:00};
% profile caption
\node[anchor=west, inner sep=0pt, text=gray, font=\fontsize{9}{10}\selectfont] at (1803,778.7) {VP GMT+};
\node[text=gray!70, inner sep=0pt] at (1602,843) {\dejavu\fontsize{7}{7}\selectfont ▼};
% copyright
\node[text=mtred, font=\fontsize{15.4}{17}\selectfont] at (1495,427.3) {Copyright, 24 February 2014};
\node[text=mtred, font=\fontsize{15.4}{17}\selectfont] at (1498,406) {http://deas88.livejournal.com/};
\end{tikzpicture}
\end{document}
